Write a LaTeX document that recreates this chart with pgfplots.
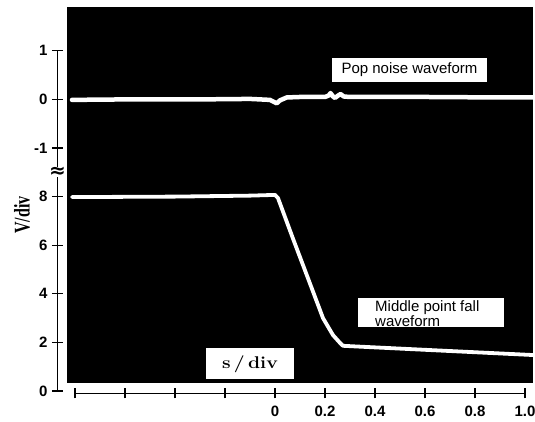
\documentclass[border=0pt]{standalone}
\usepackage{pgfplots}
\pgfplotsset{compat=1.18}
\usepackage{fontspec}
\newfontfamily\arialfont{Liberation Sans}
\newfontfamily\timesfont{Liberation Serif}
\newfontfamily\dejavufont{DejaVu Sans}
\usepackage{graphicx}

\begin{document}
\begin{tikzpicture}[x=1pt,y=1pt]
\useasboundingbox (-275pt,-30pt) rectangle (260pt,391pt);
% ---------- main black plot area with the two waveforms ----------
\begin{axis}[
  at={(-208pt,8pt)}, anchor=south west,
  x=250pt, y=48.6pt,
  xmin=-0.832, xmax=1.032, ymin=0.1646, ymax=7.901,
  enlargelimits=false,
  axis background/.style={fill=black},
  axis line style={draw=none},
  ticks=none,
  clip=true,
]
% Pop noise waveform (1 V/div, zero at division 6)
\addplot[white, line width=4.5pt, line join=round, line cap=round] table[x=t, y expr=\thisrow{v}+6] {
t v
-0.812 -0.01
-0.6 0.0
-0.3 0.0
-0.1 0.01
-0.02 -0.01
0.007 -0.08
0.02 -0.02
0.047 0.04
0.1 0.05
0.2 0.05
0.215 0.08
0.222 0.13
0.232 0.06
0.24 0.03
0.25 0.07
0.262 0.11
0.275 0.06
0.3 0.05
0.6 0.05
0.9 0.04
1.032 0.04
};
% Middle point fall waveform (2 V/div)
\addplot[white, line width=3.8pt, line join=round, line cap=round] table[x=t, y expr=\thisrow{v}/2] {
t v
-0.812 7.98
-0.4 8.0
-0.1 8.04
0.0 8.07
0.012 7.94
0.072 6.27
0.14 4.42
0.192 3.0
0.22 2.51
0.232 2.30
0.26 1.98
0.272 1.86
0.34 1.825
0.6 1.695
1.032 1.48
};
\node[fill=white, inner sep=0pt, minimum width=155pt, minimum height=24pt,
      font=\fontsize{15}{15}\selectfont\arialfont] at (axis cs:0.538,6.605) {Pop noise waveform};
\fill[white] (axis cs:0.332,1.914) rectangle (axis cs:0.916,1.317);
\node[anchor=north west, inner sep=0pt, align=left,
      font=\fontsize{15}{11}\selectfont\arialfont] at (axis cs:0.4,1.86) {Middle point fall\\waveform};
\fill[white] (axis cs:-0.276,0.885) rectangle (axis cs:0.076,0.247);
\node[inner sep=0pt] at (axis cs:-0.1,0.56) {\scalebox{1.14}[1]{\fontsize{17}{17}\selectfont\bfseries s\,/\,div}};
\end{axis}
% ---------- y axis ----------
\begin{axis}[
  at={(-217.5pt,0pt)}, anchor=south west,
  x=250pt, y=48.6pt,
  xmin=-0.87, xmax=0, ymin=0, ymax=7,
  enlargelimits=false,
  axis y line=left, axis x line=none,
  axis line style={-, line width=1.2pt},
  ytick={0,1,2,3,4,5,6,7}, yticklabels={0,2,4,6,8,-1,0,1},
  xtick=\empty,
  tick align=center, major tick length=11pt,
  tick style={line width=1.2pt, black},
  yticklabel style={font=\fontsize{15}{15}\selectfont\arialfont\bfseries, xshift=-1pt},
]
\end{axis}
% ---------- x axis ----------
\begin{axis}[
  at={(-200pt,-2.3pt)}, anchor=south west,
  x=250pt, y=48.6pt,
  xmin=-0.8, xmax=1.0, ymin=-0.047, ymax=1,
  enlargelimits=false,
  axis x line=bottom, axis y line=none,
  axis line style={-, line width=1.2pt},
  xtick={-0.8,-0.6,-0.4,-0.2,0,0.2,0.4,0.6,0.8,1.0},
  xticklabels={{},{},{},{},0,0.2,0.4,0.6,0.8,1.0},
  ytick=\empty,
  tick align=center, major tick length=10pt,
  tick style={line width=1.2pt, black},
  xticklabel style={font=\fontsize{15}{15}\selectfont\arialfont\bfseries, yshift=-4pt},
]
\end{axis}
% axis break mark and y label
\node[fill=white, inner sep=0pt, font=\fontsize{20}{20}\selectfont\dejavufont\bfseries] at (-217.5pt,218.7pt) {≈};
\node[rotate=90] at (-253pt,176pt) {\scalebox{1}[1.4]{\fontsize{16}{16}\selectfont\timesfont\bfseries V/div}};
\end{tikzpicture}
\end{document}
